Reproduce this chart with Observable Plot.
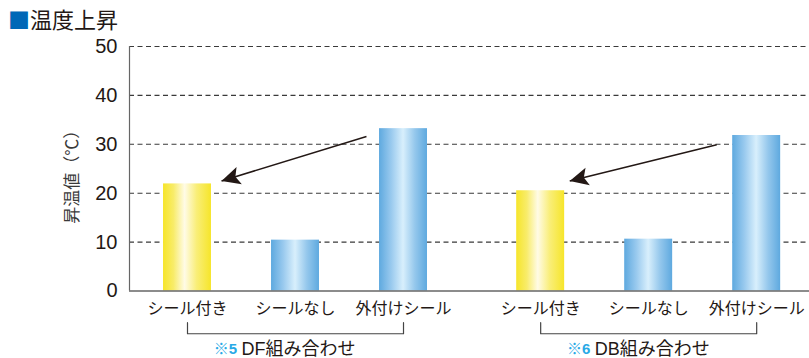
<!DOCTYPE html>
<html>
<head>
<meta charset="utf-8">
<script src="https://cdn.jsdelivr.net/npm/d3@7"></script>
<script src="https://cdn.jsdelivr.net/npm/@observablehq/plot@0.6"></script>
<style>
  html, body { margin: 0; padding: 0; background: #fff; }
  body { width: 809px; height: 358px; overflow: hidden; font-family: "Liberation Sans", "Noto Sans CJK JP", sans-serif; color: #231815; }
  .title { height: 30px; box-sizing: border-box; padding: 6px 0 0 8px; font-size: 22px; line-height: 24px; font-family: "Noto Sans CJK JP", sans-serif; }
  .title .sq { color: #0068b7; }
  svg { display: block; }
</style>
</head>
<body>
<div class="title"><span class="sq">■</span>温度上昇</div>
<div id="chart"></div>
<script>
// ---- data ----
const groupNames = ["DF組み合わせ", "DB組み合わせ"];
const groupNotes = ["※5", "※6"];
const categories = ["シール付き", "シールなし", "外付けシール"];
const dfValues = [21.9, 10.4, 33.2];
const dbValues = [20.5, 10.6, 31.8];
const yTicks = [0, 10, 20, 30, 40, 50];
const yTitle = "昇温値（℃）";
// arrows (relative slot within group, value)
const arrowFromSlot = [1.657, 1.63];
const arrowFromValue = [31.6, 29.9];
const arrowToSlot = [0.315, 0.269];
const arrowToValue = [22.5, 22.5];

// ---- layout helpers ----
const groupStride = 3.27;
const barHalf = 0.222;
const xDomain = [-0.537, 5.759];

const rows = [];
[dfValues, dbValues].forEach((vals, gi) => vals.forEach((v, i) => rows.push({
  group: groupNames[gi], cat: categories[i], value: v, slot: gi * groupStride + i, sealed: i === 0
})));
const groupRows = groupNames.map((g, gi) => ({name: g, note: groupNotes[gi], start: gi * groupStride}));
const bracketPts = [];
groupRows.forEach(g => {
  bracketPts.push({g: g.name, x: g.start, y: -6.48});
  bracketPts.push({g: g.name, x: g.start, y: -8.74});
  bracketPts.push({g: g.name, x: g.start + 2, y: -8.74});
  bracketPts.push({g: g.name, x: g.start + 2, y: -6.48});
});
const arrowRows = groupRows.map((g, gi) => ({
  x1: g.start + arrowFromSlot[gi], y1: arrowFromValue[gi],
  x2: g.start + arrowToSlot[gi], y2: arrowToValue[gi]
}));

const svg = Plot.plot({
  width: 809,
  height: 328,
  marginLeft: 129,
  marginRight: 0,
  marginTop: 16,
  marginBottom: 67.5,
  style: {fontFamily: '"Liberation Sans", "Noto Sans CJK JP", sans-serif', fontSize: "20px", color: "#231815", background: "transparent"},
  x: {type: "linear", domain: xDomain, axis: null},
  y: {domain: [0, 50], ticks: yTicks, tickSize: 0, tickPadding: 12, label: null, tickFormat: d => String(d)},
  marks: [
    Plot.ruleY(yTicks.filter(d => d > 0), {stroke: "#3a3a3a", strokeDasharray: "5,3.5", strokeWidth: 1.1}),
    Plot.rectY(rows.filter(d => d.sealed), {x1: d => d.slot - barHalf, x2: d => d.slot + barHalf, y: "value", fill: "url(#gradYellow)"}),
    Plot.rectY(rows.filter(d => !d.sealed), {x1: d => d.slot - barHalf, x2: d => d.slot + barHalf, y: "value", fill: "url(#gradBlue)"}),
    Plot.ruleY([0], {stroke: "#666", strokeWidth: 1.6}),
    Plot.ruleX([xDomain[0]], {y1: 0, y2: 50, stroke: "#666", strokeWidth: 1.2}),
    Plot.text(rows, {x: "slot", y: 0, text: "cat", dy: 18, fontSize: 16, fill: "#231815"}),
    Plot.line(bracketPts, {x: "x", y: "y", z: "g", stroke: "#444", strokeWidth: 1.2}),
    Plot.text(groupRows, {x: d => d.start + 0.46, y: 0, dy: 58.5, text: "note", textAnchor: "end", fill: "#29a9e6", fontWeight: "bold", fontSize: 15}),
    Plot.text(groupRows, {x: d => d.start + 0.5, y: 0, dy: 58.5, text: "name", textAnchor: "start", fill: "#231815", fontSize: 18}),
    Plot.text([yTitle], {frameAnchor: "left", textAnchor: "middle", rotate: -90, dx: -57, dy: 4, fontSize: 17, fill: "#3a3a3a", fontFamily: '"Noto Sans CJK JP", sans-serif'}),
    Plot.link(arrowRows, {x1: "x1", y1: "y1", x2: "x2", y2: "y2", stroke: "#231815", strokeWidth: 1.5})
  ]
});

const s = d3.select(svg);
const defs = s.insert("defs", ":first-child");
const gy = defs.append("linearGradient").attr("id", "gradYellow").attr("x1", "0").attr("x2", "1").attr("y1", "0").attr("y2", "0");
[[0, "#f6e52a"], [0.22, "#f8ec6a"], [0.45, "#fffbe6"], [0.7, "#f9ee78"], [1, "#f6e52a"]].forEach(([o, c]) => gy.append("stop").attr("offset", o).attr("stop-color", c));
const gb = defs.append("linearGradient").attr("id", "gradBlue").attr("x1", "0").attr("x2", "1").attr("y1", "0").attr("y2", "0");
[[0, "#5ea9df"], [0.25, "#98c9ee"], [0.5, "#d8effc"], [0.75, "#94c7ec"], [1, "#5ea9df"]].forEach(([o, c]) => gb.append("stop").attr("offset", o).attr("stop-color", c));
const mk = defs.append("marker").attr("id", "arrowHead").attr("markerUnits", "userSpaceOnUse")
  .attr("viewBox", "-20 -10 21 20").attr("refX", 0).attr("refY", 0)
  .attr("markerWidth", 21).attr("markerHeight", 20).attr("orient", "auto");
mk.append("path").attr("d", "M0,0L-18.5,-9L-14.5,0L-18.5,9Z").attr("fill", "#231815");
s.selectAll('g[aria-label="link"] path').attr("marker-end", "url(#arrowHead)");

document.getElementById("chart").appendChild(svg);
</script>
</body>
</html>
